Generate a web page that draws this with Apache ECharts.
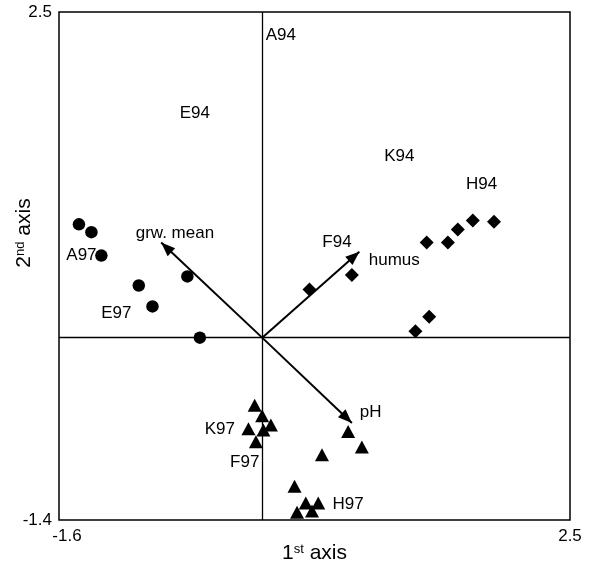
<!DOCTYPE html>
<html>
<head>
<meta charset="utf-8">
<script src="https://cdn.jsdelivr.net/npm/echarts@6/dist/echarts.min.js"></script>
<style>
  html, body { margin: 0; padding: 0; background: #fff; }
  #chart { width: 595px; height: 566px; }
</style>
</head>
<body>
<div id="chart"></div>
<script>
// site scores
const plots97A = [[-1.44, 0.87], [-1.34, 0.81], [-1.26, 0.63], [-0.57, 0.47], [-0.96, 0.40], [-0.85, 0.24], [-0.47, 0.0]]
const plots94 = [[0.41, 0.37], [0.75, 0.48], [1.35, 0.73], [1.52, 0.73], [1.60, 0.83], [1.72, 0.90], [1.89, 0.89], [1.37, 0.16], [1.26, 0.05]]
const plots97B = [[-0.03, -0.52], [0.03, -0.60], [0.10, -0.67], [-0.08, -0.70], [0.04, -0.71], [-0.02, -0.80],
  [0.72, -0.72], [0.83, -0.84], [0.51, -0.90], [0.29, -1.14], [0.38, -1.27], [0.48, -1.27], [0.31, -1.34], [0.43, -1.33]]

// environmental vectors (tips), drawn from the origin
const origin = [0.03, 0]
const vectors = [
  { name: 'grw. mean', tip: [-0.78, 0.73] },
  { name: 'humus', tip: [0.81, 0.66] },
  { name: 'pH', tip: [0.75, -0.655] }
]

// text labels inside the plot
const labels = [
  ['A94', 0.18, 2.32], ['E94', -0.51, 1.72], ['K94', 1.13, 1.39], ['H94', 1.79, 1.18],
  ['F94', 0.63, 0.73], ['humus', 1.09, 0.59], ['grw. mean', -0.67, 0.80],
  ['A97', -1.42, 0.63], ['E97', -1.14, 0.19], ['K97', -0.31, -0.70], ['F97', -0.11, -0.955],
  ['H97', 0.72, -1.28], ['pH', 0.90, -0.57]
]

const xTicks = [-1.6, 2.5]
const yTicks = [-1.4, 2.5]

const font = 'Liberation Sans, Arial, sans-serif'
const supStyle = { fontFamily: font, fontSize: 13, color: '#000', verticalAlign: 'top', padding: [0, 0, 8, 0] }

const chart = echarts.init(document.getElementById('chart'))

const option = {
  animation: false,
  grid: {
    left: 59, right: 25, top: 12, bottom: 46,
    outerBoundsMode: 'none',
    show: true, borderColor: '#000', borderWidth: 1.5
  },
  xAxis: {
    type: 'value',
    min: -1.6,
    max: 2.5,
    name: '1{sup|st} axis',
    nameLocation: 'middle',
    nameGap: 23,
    nameMoveOverlap: false,
    nameTextStyle: {
      fontFamily: font, fontSize: 21, color: '#000',
      rich: { sup: supStyle }
    },
    axisLine: { show: false },
    axisTick: { show: false },
    splitLine: { show: false },
    axisLabel: {
      customValues: xTicks,
      fontFamily: font, fontSize: 17, color: '#000', margin: 8,
      formatter: v => v === xTicks[0] ? '{lo|' + v + '}' : String(v),
      rich: { lo: { fontFamily: font, fontSize: 17, color: '#000', padding: [0, 0, 0, 16] } }
    }
  },
  yAxis: {
    type: 'value',
    min: -1.4,
    max: 2.5,
    name: '2{sup|nd} axis',
    nameLocation: 'middle',
    nameRotate: 90,
    nameGap: 24,
    nameMoveOverlap: false,
    nameTextStyle: {
      fontFamily: font, fontSize: 21, color: '#000',
      padding: [0, 0, 0, 66],
      rich: { sup: supStyle }
    },
    axisLine: { show: false },
    axisTick: { show: false },
    splitLine: { show: false },
    axisLabel: {
      customValues: yTicks,
      fontFamily: font, fontSize: 17, color: '#000', margin: 7,
      formatter: v => String(v)
    }
  },
  series: [
    {
      type: 'scatter',
      symbol: 'circle',
      symbolSize: 12.5,
      itemStyle: { color: '#000', opacity: 1 },
      data: plots97A,
      markLine: {
        silent: true,
        symbol: 'none',
        label: { show: false },
        lineStyle: { color: '#000', type: 'solid', width: 1.3 },
        data: [{ xAxis: origin[0] }, { yAxis: origin[1] }]
      },
      z: 3
    },
    {
      type: 'scatter',
      symbol: 'diamond',
      symbolSize: 14,
      itemStyle: { color: '#000', opacity: 1 },
      data: plots94,
      z: 3
    },
    {
      type: 'scatter',
      symbol: 'triangle',
      symbolSize: [14, 13],
      itemStyle: { color: '#000', opacity: 1 },
      data: plots97B,
      z: 3
    },
    {
      type: 'scatter',
      symbolSize: 0,
      silent: true,
      itemStyle: { opacity: 1 },
      data: labels.map(l => ({ name: l[0], value: [l[1], l[2]] })),
      label: {
        show: true,
        position: 'inside',
        formatter: p => p.name,
        fontFamily: font,
        fontSize: 17,
        color: '#000'
      },
      // vectors: arrow head pulled back so its point sits on the tip
      markLine: {
        silent: true,
        animation: false,
        symbol: ['none', 'triangle'],
        symbolSize: [11, 14],
        symbolOffset: [[0, 0], [0, 7]],
        label: { show: false },
        lineStyle: { color: '#000', type: 'solid', width: 2, opacity: 1 },
        data: vectors.map(v => [{ coord: origin }, { coord: v.tip }])
      },
      z: 5
    }
  ]
}

chart.setOption(option)
</script>
</body>
</html>
